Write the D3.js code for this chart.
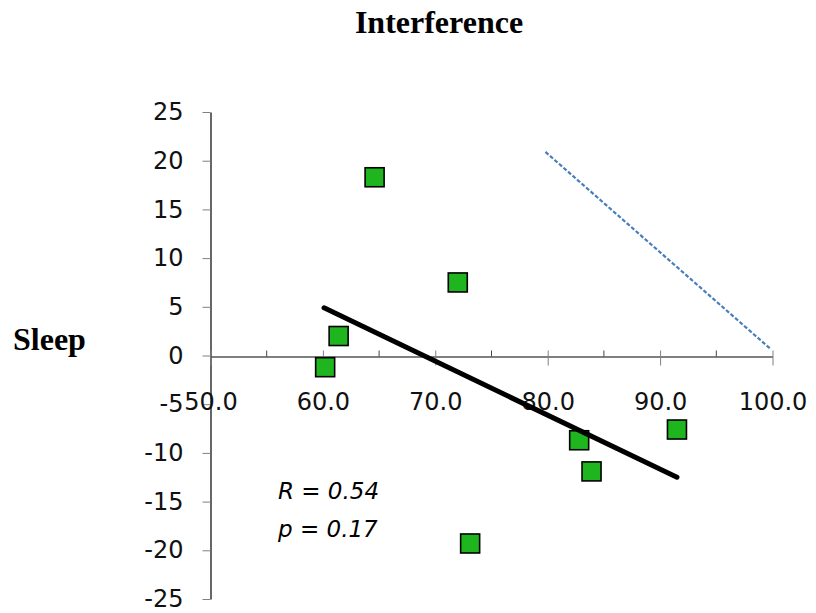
<!DOCTYPE html>
<html>
<head>
<meta charset="utf-8">
<script src="https://cdn.jsdelivr.net/npm/d3@7"></script>
<style>
  body { margin: 0; background: #fff; }
</style>
</head>
<body>
<div id="area"></div>
<script>
// values
var interference = [60.2, 61.4, 64.6, 72.0, 73.1, 82.8, 83.9, 91.5];
var sleep = [-1.2, 2.0, 18.3, 7.5, -19.3, -8.7, -11.9, -7.6];
var trendX = [60.1, 91.5];
var trendY = [4.9, -12.5];
var refX = [79.8, 99.8];
var refY = [20.9, 0.7];
var xTicks = [50, 60, 70, 80, 90, 100];
var xMinor = [55, 65, 75, 85, 95];
var yTicks = [-25, -20, -15, -10, -5, 0, 5, 10, 15, 20, 25];

var width = 816, height = 613;

var svg = d3.select("#area")
.append("svg")
  .attr("width", width)
  .attr("height", height);

var x = d3.scaleLinear().domain([50, 100]).range([210.5, 772.5]);
var y = d3.scaleLinear().domain([-25, 25]).range([599, 112]);

// title + y label
svg.append("text")
  .attr("x", 439).attr("y", 33)
  .attr("text-anchor", "middle")
  .style("font-family", "'Liberation Serif', 'Times New Roman', serif")
  .style("font-weight", "bold")
  .style("font-size", "32px")
  .text("Interference");

svg.append("text")
  .attr("x", 13).attr("y", 350)
  .style("font-family", "'Liberation Serif', 'Times New Roman', serif")
  .style("font-weight", "bold")
  .style("font-size", "32px")
  .text("Sleep");

// y axis
var yAxis = svg.append("g")
  .attr("transform", "translate(210.5,0)")
  .call(d3.axisLeft(y).tickValues(yTicks).tickSize(8).tickSizeOuter(0).tickPadding(19).tickFormat(function(d){ return d; }));
yAxis.select(".domain").attr("stroke", "#000").attr("stroke-width", 1.2);
yAxis.selectAll(".tick line").attr("stroke", "#808080");
yAxis.selectAll(".tick text")
  .style("font-family", "'DejaVu Sans', Verdana, sans-serif")
  .style("font-size", "24px")
  .attr("fill", "#111");

// x axis crossing at y = 0
var xAxis = svg.append("g")
  .attr("transform", "translate(0," + (Math.round(y(0)) + 0.5) + ")")
  .call(d3.axisBottom(x).tickValues(xTicks).tickSize(9).tickSizeOuter(0).tickPadding(27).tickFormat(d3.format(".1f")));
xAxis.select(".domain").attr("stroke", "#000").attr("stroke-width", 1.2);
xAxis.selectAll(".tick line").attr("stroke", "#808080").attr("y1", -6);
xAxis.selectAll(".tick text")
  .style("font-family", "'DejaVu Sans', Verdana, sans-serif")
  .style("font-size", "24px")
  .attr("fill", "#111");

xAxis.selectAll(".minor")
.data(xMinor)
.enter()
.append("line")
  .attr("x1", function(d){ return x(d); })
  .attr("x2", function(d){ return x(d); })
  .attr("y1", -6).attr("y2", 0)
  .attr("stroke", "#444");

// dashed reference line
svg.append("line")
  .attr("x1", x(refX[0])).attr("y1", y(refY[0]))
  .attr("x2", x(refX[1])).attr("y2", y(refY[1]))
  .attr("stroke", "#4a7ebb")
  .attr("stroke-width", 2.2)
  .attr("stroke-dasharray", "4,2");

// points
var pts = interference.map(function(v, i){ return {x: v, y: sleep[i]}; });
var sz = 19;
svg.selectAll(".pt")
.data(pts)
.enter()
.append("rect")
  .attr("x", function(d){ return x(d.x) - sz/2; })
  .attr("y", function(d){ return y(d.y) - sz/2; })
  .attr("width", sz).attr("height", sz)
  .attr("fill", "#1fb51f")
  .attr("stroke", "#000")
  .attr("stroke-width", 1.6);

// trend line
svg.append("line")
  .attr("x1", x(trendX[0])).attr("y1", y(trendY[0]))
  .attr("x2", x(trendX[1])).attr("y2", y(trendY[1]))
  .attr("stroke", "#000")
  .attr("stroke-width", 5)
  .attr("stroke-linecap", "round");

// stats
var stats = svg.append("g")
  .style("font-family", "'DejaVu Sans', Verdana, sans-serif")
  .style("font-style", "italic")
  .style("font-size", "23px");
stats.append("text").attr("x", 278).attr("y", 499).text("R = 0.54");
stats.append("text").attr("x", 278).attr("y", 537).text("p = 0.17");
</script>
</body>
</html>
